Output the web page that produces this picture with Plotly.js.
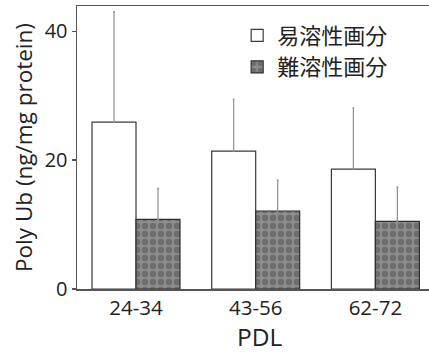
<!DOCTYPE html>
<html><head><meta charset="utf-8">
<script src="https://cdn.plot.ly/plotly-3.0.1.min.js"></script>
<style>html,body{margin:0;padding:0;background:#fff}#c{width:429px;height:353px}</style>
</head><body><div id="c"></div>
<script>
const categories = ['24-34', '43-56', '62-72'];
const easyName = '易溶性画分';
const hardName = '難溶性画分';
const easyValues = [25.9, 21.4, 18.6];
const easyErrors = [17.1, 8.0, 9.5];
const hardValues = [10.8, 12.1, 10.5];
const hardErrors = [4.8, 4.8, 5.3];
const yTicks = [0, 20, 40];
const xTitle = 'PDL';

const fontFam = '"Open Sans", "Noto Sans CJK JP", sans-serif';
const err = (arr) => ({type:'data', array:arr, symmetric:false, arrayminus:arr.map(()=>0), color:'#8f8f8f', thickness:1.2, width:1});

const traces = [
  {type:'bar', name:easyName, x:categories, y:easyValues, error_y:err(easyErrors),
   marker:{color:'#ffffff', line:{color:'#3a3a3a', width:1.2}}},
  {type:'bar', name:hardName, x:categories, y:hardValues, error_y:err(hardErrors),
   marker:{color:'#7f7f7f', line:{color:'#2e2e2e', width:1.2},
     pattern:{shape:'.', bgcolor:'#8d8d8d', fgcolor:'#6e6e6e', size:8, solidity:0.5, fillmode:'replace'}}}
];

const layout = {
  width:429, height:353,
  margin:{l:77, r:0, t:6, b:64},
  paper_bgcolor:'#fff', plot_bgcolor:'#fff',
  barmode:'group', bargap:0.265, bargroupgap:0,
  showlegend:true,
  legend:{x:0.455, y:0.97, xanchor:'left', yanchor:'top', bgcolor:'rgba(0,0,0,0)',
    font:{family:'"Noto Sans CJK JP", sans-serif', size:22, color:'#222'}, tracegroupgap:0},
  font:{family:fontFam, color:'#222'},
  xaxis:{range:[-0.493, 2.448], showline:true, linecolor:'#555', linewidth:1.5, mirror:true,
    ticks:'', showgrid:false, zeroline:false, tickfont:{size:20.5, family:fontFam, color:'#222'}},
  yaxis:{range:[0, 43.9], tickvals:yTicks, ticktext:yTicks.map(String), showline:true, linecolor:'#555', linewidth:1.5,
    ticks:'outside', ticklen:4, tickcolor:'#555', tickwidth:1.2, showgrid:false, zeroline:false,
    tickfont:{size:20, family:fontFam, color:'#222'},
    title:{text:'Poly Ub (ng/mg protein)', font:{size:22.5, family:fontFam, color:'#222'}, standoff:6}},
  annotations:[{text:xTitle, xref:'paper', yref:'paper', x:0.52, y:-0.1696, xanchor:'center', yanchor:'middle',
    showarrow:false, borderpad:0, font:{size:24.5, family:fontFam, color:'#222'}}]
};
Plotly.newPlot('c', traces, layout, {displayModeBar:false, staticPlot:true});
</script></body></html>
